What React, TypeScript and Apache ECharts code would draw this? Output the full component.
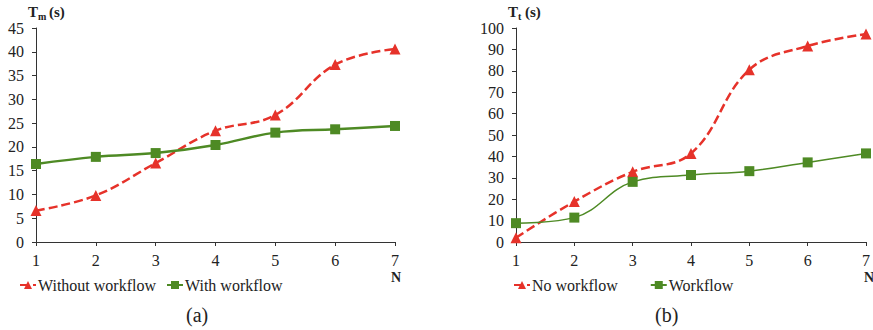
import React, { useEffect, useRef } from "react";
import * as echarts from "echarts";

const categories = ["1", "2", "3", "4", "5", "6", "7"];
const tmWithout = [6.6, 9.8, 16.6, 23.4, 26.7, 37.3, 40.6];
const tmWith = [16.4, 17.9, 18.7, 20.4, 23.0, 23.7, 24.4];
const ttNo = [2.0, 18.9, 32.8, 41.4, 80.5, 91.6, 97.2];
const ttWf = [8.8, 11.4, 28.1, 31.3, 33.1, 37.2, 41.4];

const RED = "#e6322a";
const GREEN = "#4e8a24";
const FONT = "Times New Roman";
const TXT = "#222";

export default function App() {
  const ref = useRef<HTMLDivElement>(null);
  useEffect(() => {
    if (!ref.current) return;
    const chart = echarts.init(ref.current, undefined, { renderer: "svg" });
    const axisLine = { lineStyle: { color: "#333", width: 1 } };
    const xAxisBase = {
      type: "category",
      data: categories,
      boundaryGap: false,
      axisLine,
      axisTick: { show: true, length: 4, lineStyle: { color: "#333" } },
      axisLabel: { color: TXT, fontFamily: FONT, fontSize: 16, margin: 10 },
      splitLine: { show: false },
    };
    const yAxisBase = {
      type: "value",
      axisLine: { show: true, ...axisLine },
      axisTick: { show: true, length: 4, lineStyle: { color: "#333" } },
      axisLabel: { color: TXT, fontFamily: FONT, fontSize: 16, margin: 12 },
      splitLine: { show: false },
    };
    const redLine = (name: string, data: number[], idx: number) => ({
      name,
      type: "line",
      xAxisIndex: idx,
      yAxisIndex: idx,
      data,
      smooth: 0.4,
      symbol: "triangle",
      symbolSize: 11,
      lineStyle: { color: RED, width: 2.5, type: [9, 4] },
      itemStyle: { color: RED },
    });
    const greenLine = (name: string, data: number[], idx: number, w: number) => ({
      name,
      type: "line",
      xAxisIndex: idx,
      yAxisIndex: idx,
      data,
      smooth: 0.4,
      symbol: "rect",
      symbolSize: 10,
      lineStyle: { color: GREEN, width: w },
      itemStyle: { color: GREEN },
    });
    const legendText = { color: TXT, fontFamily: FONT, fontSize: 16 };
    const txt = (text: string, left: number, top: number, size: number, bold: boolean) => ({
      type: "text",
      left,
      top,
      style: { text, fontFamily: FONT, fontSize: size, fontWeight: bold ? "bold" : "normal", fill: TXT },
    });
    chart.setOption({
      animation: false,
      grid: [
        { left: 36, right: 478, top: 28, bottom: 88 },
        { left: 516, right: 7, top: 28, bottom: 88 },
      ],
      xAxis: [
        { ...xAxisBase, gridIndex: 0 },
        { ...xAxisBase, gridIndex: 1 },
      ],
      yAxis: [
        { ...yAxisBase, gridIndex: 0, min: 0, max: 45, interval: 5 },
        { ...yAxisBase, gridIndex: 1, min: 0, max: 100, interval: 10 },
      ],
      legend: [
        {
          data: ["Without workflow", "With workflow"],
          left: 14,
          top: 272,
          itemWidth: 16,
          itemHeight: 10,
          itemGap: 10,
          textStyle: { ...legendText, padding: [0, 0, 0, -3] },
        },
        {
          data: ["No workflow", "Workflow"],
          left: 508,
          top: 272,
          itemWidth: 16,
          itemHeight: 10,
          itemGap: 32,
          textStyle: { ...legendText, padding: [0, 0, 0, -3] },
        },
      ],
      graphic: [
        txt("T", 28, 4, 15, true),
        txt("m", 38, 11, 10, true),
        txt("(s)", 49, 4, 15, true),
        txt("T", 508, 4, 15, true),
        txt("t", 518, 11, 10, true),
        txt("(s)", 525, 4, 15, true),
        txt("N", 391, 270, 14, true),
        txt("N", 864, 270, 14, true),
        txt("(a)", 186, 305, 20, false),
        txt("(b)", 655, 305, 20, false),
      ],
      series: [
        redLine("Without workflow", tmWithout, 0),
        greenLine("With workflow", tmWith, 0, 2.5),
        redLine("No workflow", ttNo, 1),
        greenLine("Workflow", ttWf, 1, 1.5),
      ],
    });
    return () => chart.dispose();
  }, []);
  return <div ref={ref} style={{ width: 873, height: 330, position: "absolute", left: 0, top: 0 }} />;
}
